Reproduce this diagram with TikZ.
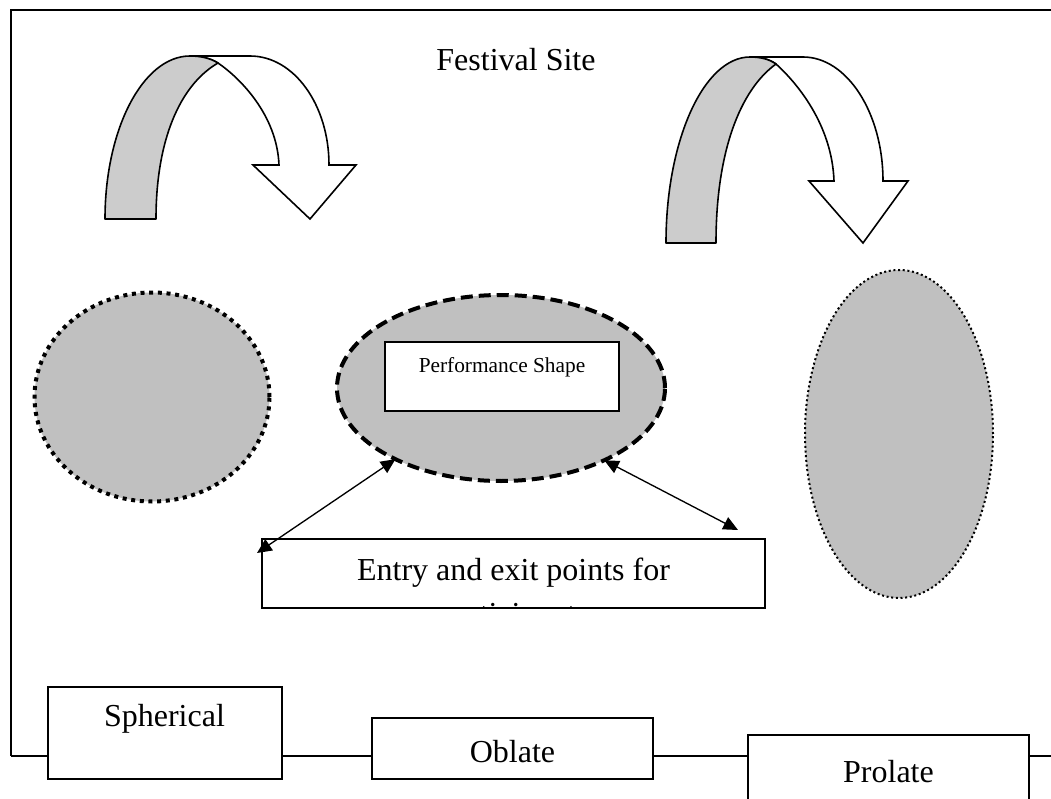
\documentclass[tikz,border=0pt]{standalone}
\usepackage{fontspec}
\setmainfont{Liberation Serif}
\usetikzlibrary{arrows.meta,shapes.geometric}

\definecolor{bandgray}{RGB}{204,204,204}
\definecolor{shapegray}{RGB}{192,192,192}

\tikzset{
  frameline/.style={line width=1.5pt},
  textbox/.style={draw, line width=1.5pt, fill=white, inner sep=0pt, outer sep=0pt, font=\fontsize{24}{28.8}\selectfont},
  bandpart/.style={draw, line width=1.2pt, line join=round, fill=bandgray},
  whitepart/.style={draw, line width=1.2pt, fill=white},
  gapline/.style={line width=1pt, {Triangle[length=11pt,width=10pt]}-{Triangle[length=11pt,width=10pt]}}
}

\begin{document}
\begin{tikzpicture}[x=0.75pt,y=0.75pt,yscale=-1,xscale=1]
\useasboundingbox (0,0) rectangle (1051,799);

%Curved Arrow (left)
\draw[whitepart] (190,56) -- (250,56) .. controls (294,56) and (329,105) .. (329,165) -- (356,165) -- (310,219) -- (253,165) -- (279,165) .. controls (277,115) and (240,78) .. (218,63) .. controls (210,58) and (200,56) .. (190,56) -- cycle;
\draw[bandpart] (105,219) .. controls (105,129) and (143,56) .. (190,56) .. controls (200,56) and (210,58) .. (218,63) .. controls (180,85) and (156,140) .. (156,219) -- cycle;
%Curved Arrow (right)
\draw[whitepart] (750,57) -- (803,57) .. controls (847,57) and (883,113) .. (883,181) -- (908,181) -- (863,243) -- (809,181) -- (834,181) .. controls (832,124) and (796,82) .. (776,64) .. controls (769,59) and (760,57) .. (750,57) -- cycle;
\draw[bandpart] (666,243) .. controls (666,140) and (704,57) .. (750,57) .. controls (760,57) and (769,59) .. (776,64) .. controls (740,90) and (716,152) .. (716,243) -- cycle;

%Shape: Ellipse
\node[ellipse, draw, fill=shapegray, line width=3pt, dash pattern=on 3pt off 3.5pt, inner sep=0pt, outer sep=0pt, minimum width=176.25pt, minimum height=156.75pt] (sphshape) at (152,397) {};
%Shape: Ellipse
\node[ellipse, draw, fill=shapegray, line width=3pt, dash pattern=on 9pt off 4.5pt, inner sep=0pt, outer sep=0pt, minimum width=246pt, minimum height=139.5pt] (perf) at (501,388) {};
%Shape: Ellipse
\node[ellipse, draw, fill=shapegray, line width=1.5pt, dash pattern=on 1.5pt off 2pt, inner sep=0pt, outer sep=0pt, minimum width=141pt, minimum height=246pt] (proshape) at (899,434) {};

% Text Node
\node[textbox, font=\fontsize{16}{19.2}\selectfont, minimum width=175.5pt, minimum height=51.75pt, text height=11pt, text depth=17.75pt] (perfbox) at (502,376.5) {Performance Shape};

% Text Node
\node[anchor=base, inner sep=0pt, font=\fontsize{24}{28.8}\selectfont] (title) at (516,71) {Festival Site};

% Text Node (text runs past the bottom of its box)
\node[textbox, minimum width=377.25pt, minimum height=51.75pt] (entry) at (513.5,573.5) {};
\begin{scope}
\clip (entry.south west) rectangle (entry.north east);
\node[anchor=north, inner sep=0pt, align=center, font=\fontsize{24}{33}\selectfont] (entrytext) at (513.5,558) {Entry and exit points for\\participants};
\end{scope}

%Straight Lines
\coordinate (entryL) at (257,553);
\coordinate (entryR) at (738,530);
\draw[gapline] (perf.214) -- (entryL);
\draw[gapline] (perf.325) -- (entryR);

% Text Node
\node[textbox, minimum width=175.5pt, minimum height=69pt, text height=16pt, text depth=26.5pt] (sph) at (164.5,733) {Spherical};
% Text Node
\node[textbox, minimum width=210.75pt, minimum height=45.75pt, text height=20.25pt, text depth=0pt] (obl) at (512.5,748.5) {Oblate};
% Text Node
\node[textbox, minimum width=210.75pt, minimum height=69pt, text height=16pt, text depth=14.5pt] (pro) at (888.5,781) {Prolate};

%Frame
\coordinate (base) at (11,756);
\coordinate (edgeR) at (1051,756);
\draw[frameline] (1051,10) -- (11,10) -- (base);
\draw[frameline] (base) -- (sph.west |- base);
\draw[frameline] (sph.east |- base) -- (obl.west |- base);
\draw[frameline] (obl.east |- base) -- (pro.west |- base);
\draw[frameline] (pro.east |- base) -- (edgeR);

\end{tikzpicture}
\end{document}
